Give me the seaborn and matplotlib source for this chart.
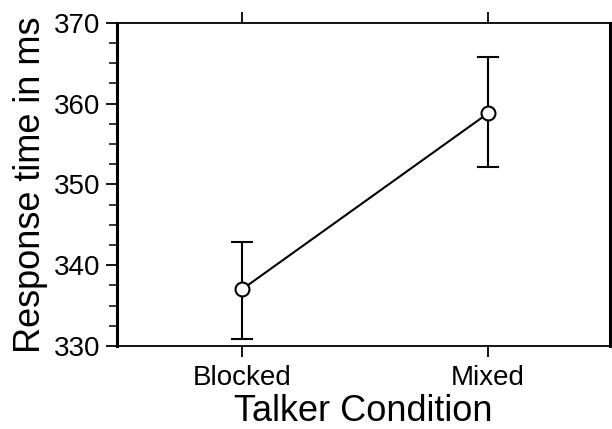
import matplotlib
matplotlib.use("Agg")
import matplotlib.pyplot as plt
import seaborn as sns
import numpy as np
from matplotlib.ticker import MultipleLocator

conditions = ["Blocked", "Mixed"]
means = [337.0, 358.8]
upper = [342.9, 365.7]
lower = [330.9, 352.2]
y_ticks = [330, 340, 350, 360, 370]

sns.set_theme(style="white")
plt.rcParams['font.family'] = ['Liberation Sans', 'DejaVu Sans']

fig = plt.figure(figsize=(6.12, 4.29), dpi=100)
ax = fig.add_axes([0.191, 0.1935, 0.806, 0.7535])

xpos = np.arange(len(conditions))
m = np.array(means)
err = np.array([m - np.array(lower), np.array(upper) - m])
ax.errorbar(xpos, m, yerr=err, fmt='none', ecolor='black', elinewidth=1.5,
            capsize=8, capthick=1.5, zorder=2)
sns.lineplot(x=xpos, y=means, ax=ax, color='black', linewidth=1.5,
             marker='o', markersize=10, markerfacecolor='white',
             markeredgecolor='black', markeredgewidth=1.5, zorder=3)

ax.set_xlim(-0.508, 1.496)
ax.set_ylim(330, 370)
ax.set_xticks(xpos)
ax.set_xticklabels(conditions)
ax.set_yticks(y_ticks)
ax.yaxis.set_minor_locator(MultipleLocator(2.5))

ax.tick_params(axis='x', which='major', direction='out', length=8, width=1.3,
               top=True, bottom=True, labelsize=20, colors='black', pad=6)
ax.tick_params(axis='y', which='major', direction='out', length=8, width=1.3,
               left=True, right=False, labelsize=20, colors='black', pad=4)
ax.tick_params(axis='y', which='minor', direction='out', length=6, width=1.3,
               left=True, right=False)

for s in ['left', 'right']:
    ax.spines[s].set_linewidth(2.2)
for s in ['top', 'bottom']:
    ax.spines[s].set_linewidth(1.3)
for s in ax.spines.values():
    s.set_color('black')
    s.set_visible(True)

ax.set_xlabel("Talker Condition", fontsize=26, color='black', labelpad=2)
ax.set_ylabel("Response time in ms", fontsize=26, color='black', labelpad=4)

fig.savefig("out.png", dpi=100)
